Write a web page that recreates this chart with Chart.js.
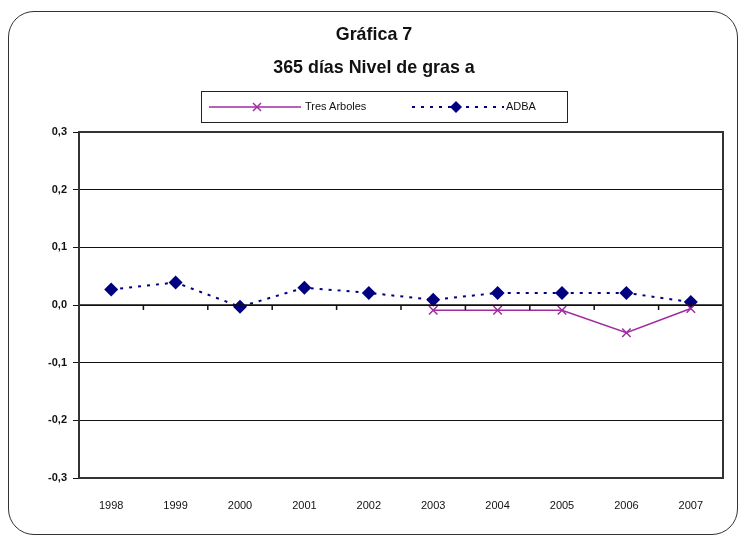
<!DOCTYPE html>
<html>
<head>
<meta charset="utf-8">
<script src="https://cdn.jsdelivr.net/npm/chart.js@4.4.0/dist/chart.umd.min.js"></script>
<style>
  html, body { margin: 0; padding: 0; background: #fff; }
  #wrap { position: relative; width: 748px; height: 542px; }
  #frame { position: absolute; left: 8px; top: 11px; width: 730px; height: 524px;
           border: 1.5px solid #333; border-radius: 26px; box-sizing: border-box; }
  #title { position: absolute; left: 0; top: 17px; width: 748px; text-align: center;
           font-family: "Liberation Sans", Arial, sans-serif;
           font-weight: bold; font-size: 19px; line-height: 33px; color: #111;
           transform: scaleX(0.94); transform-origin: 374px 0; }
  #legend { position: absolute; left: 201px; top: 91px; width: 367px; height: 32px;
            border: 1.5px solid #222; box-sizing: border-box;
            font-family: Arial, "Liberation Sans", sans-serif; font-size: 11px; color: #111; }
  #legend .item { position: absolute; top: 0; height: 29px; line-height: 29px; }
  #legend svg { position: absolute; top: 8px; }
  #legend span { position: absolute; top: 0; white-space: nowrap; }
  canvas { position: absolute; left: 0; top: 0; }
</style>
</head>
<body>
<div id="wrap">
  <div id="frame"></div>
  <canvas id="chart" width="748" height="542"></canvas>
  <div id="title">Gráfica 7<br>365 días Nivel de gras a</div>
  <div id="legend"></div>
</div>
<script>
// categories and series
const years = ['1998', '1999', '2000', '2001', '2002', '2003', '2004', '2005', '2006', '2007'];
const tresArboles = [null, null, null, null, null, -0.009, -0.009, -0.009, -0.048, -0.006];
const adba = [0.027, 0.039, -0.003, 0.030, 0.021, 0.009, 0.021, 0.021, 0.021, 0.005];
const yTicks = [-0.3, -0.2, -0.1, 0, 0.1, 0.2, 0.3];

const purple = '#A02CA0';
const navy = '#000080';

// legend (html)
const legend = document.getElementById('legend');
legend.innerHTML =
  '<div class="item" style="left:7px">' +
    '<svg width="92" height="14" style="left:0"><line x1="0" y1="7" x2="92" y2="7" stroke="' + purple + '" stroke-width="1.5"/>' +
    '<line x1="44" y1="3" x2="52" y2="11" stroke="' + purple + '" stroke-width="1.5"/><line x1="44" y1="11" x2="52" y2="3" stroke="' + purple + '" stroke-width="1.5"/></svg>' +
    '<span style="left:96px">Tres Arboles</span></div>' +
  '<div class="item" style="left:210px">' +
    '<svg width="92" height="14" style="left:0"><line x1="0" y1="7" x2="92" y2="7" stroke="' + navy + '" stroke-width="2" stroke-dasharray="3 6"/>' +
    '<polygon points="44,1 50,7 44,13 38,7" fill="' + navy + '"/></svg>' +
    '<span style="left:94px">ADBA</span></div>';

// axis line at zero with category tick marks, and plot border
const zeroAxis = {
  id: 'zeroAxis',
  afterDatasetsDraw(chart) {
    const { ctx, chartArea: a, scales } = chart;
    const y0 = scales.y.getPixelForValue(0);
    ctx.save();
    ctx.strokeStyle = '#111';
    ctx.lineWidth = 1.5;
    ctx.beginPath();
    ctx.moveTo(a.left, y0);
    ctx.lineTo(a.right, y0);
    const n = years.length;
    const step = (a.right - a.left) / n;
    for (let i = 1; i < n; i++) {
      const x = a.left + step * i;
      ctx.moveTo(x, y0);
      ctx.lineTo(x, y0 + 5);
    }
    ctx.stroke();
    ctx.lineWidth = 2;
    ctx.strokeStyle = '#333';
    ctx.strokeRect(a.left, a.top, a.right - a.left, a.bottom - a.top);
    ctx.restore();
  }
};

new Chart(document.getElementById('chart').getContext('2d'), {
  type: 'line',
  data: {
    labels: years,
    datasets: [
      {
        label: 'Tres Arboles',
        data: tresArboles,
        borderColor: purple,
        backgroundColor: purple,
        borderWidth: 1.5,
        pointStyle: 'crossRot',
        pointRadius: 6,
        pointBorderWidth: 1.5,
        tension: 0,
        spanGaps: false
      },
      {
        label: 'ADBA',
        data: adba,
        borderColor: navy,
        backgroundColor: navy,
        borderWidth: 2,
        borderDash: [3, 6],
        pointStyle: 'rectRot',
        pointRadius: 7,
        pointBorderWidth: 0,
        tension: 0
      }
    ]
  },
  options: {
    responsive: false,
    animation: false,
    layout: { padding: { left: 10, right: 25, top: 132, bottom: 22 } },
    plugins: {
      legend: { display: false },
      title: { display: false },
      tooltip: { enabled: false }
    },
    scales: {
      x: {
        offset: true,
        grid: { display: false },
        border: { display: false },
        ticks: {
          color: '#111',
          padding: 13,
          maxRotation: 0,
          font: { family: 'Arial, "Liberation Sans", sans-serif', size: 11 }
        },
        afterFit(s) { s.height = 42; }
      },
      y: {
        min: -0.3,
        max: 0.3,
        afterBuildTicks(s) { s.ticks = yTicks.map(v => ({ value: v })); },
        grid: { color: '#111', lineWidth: 1, tickLength: 6, drawTicks: true },
        border: { display: false },
        ticks: {
          color: '#111',
          padding: 6,
          font: { family: 'Arial, "Liberation Sans", sans-serif', size: 11, weight: 'bold' },
          callback: v => v.toFixed(1).replace('.', ',').replace('-0,0', '0,0')
        },
        afterFit(s) { s.width = 69; }
      }
    }
  },
  plugins: [zeroAxis]
});
</script>
</body>
</html>
